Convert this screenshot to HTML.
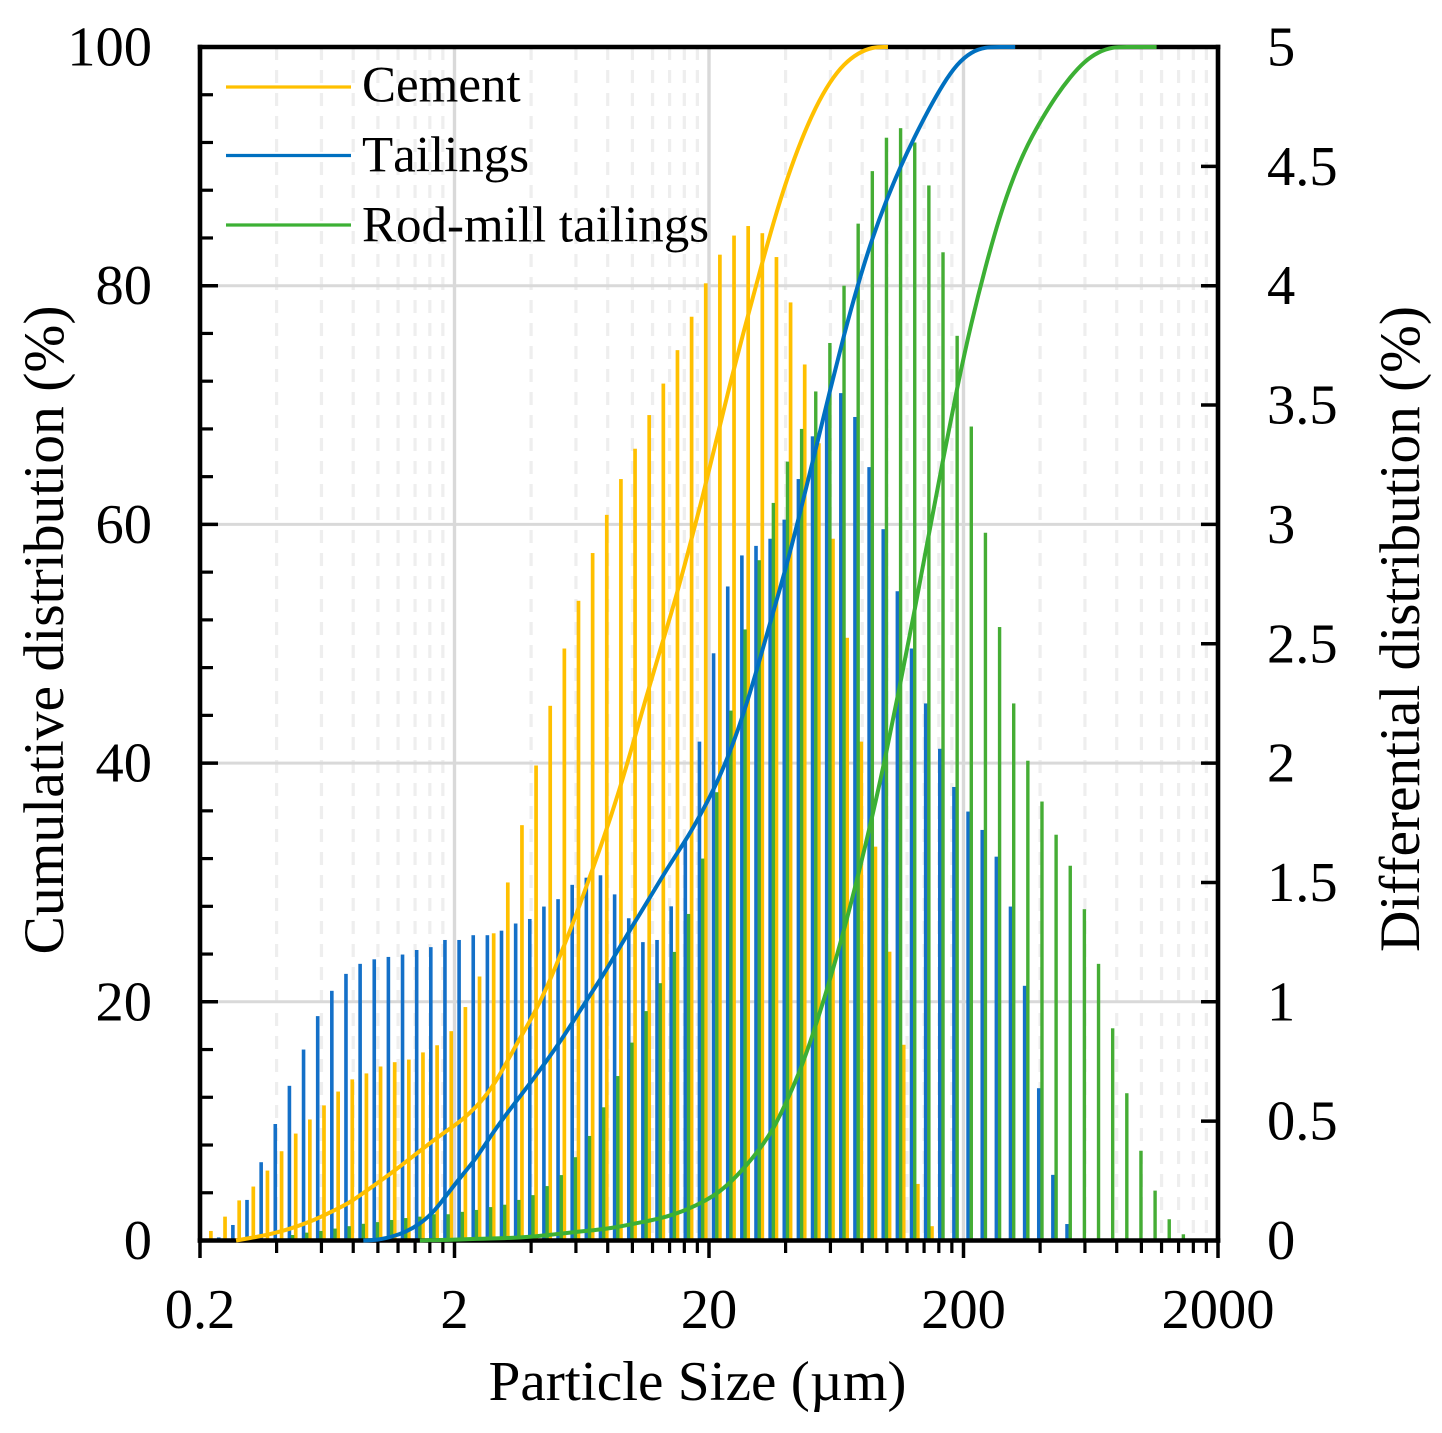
<!DOCTYPE html>
<html lang="en">
<head>
<meta charset="utf-8">
<title>Particle size distribution</title>
<style>
html,body{margin:0;padding:0;background:#fff;}
svg{display:block;}
text{font-family:"Liberation Serif",serif;fill:#000;font-kerning:none;}
</style>
</head>
<body>
<svg id="chart" xmlns="http://www.w3.org/2000/svg" width="1442" height="1433" viewBox="0 0 1442 1433">
  <rect x="0" y="0" width="1442" height="1433" fill="#fff"/>
  <g id="grid"></g>
  <g id="bars"></g>
  <g id="axes"></g>
  <g id="curves"></g>
  <g id="tick-labels" font-size="56.5"></g>
  <text x="697.5" y="1400" font-size="56" text-anchor="middle" textLength="418" lengthAdjust="spacingAndGlyphs">Particle Size (µm)</text>
  <text transform="translate(63 630) rotate(-90)" font-size="57" text-anchor="middle" textLength="649" lengthAdjust="spacingAndGlyphs">Cumulative distribution (%)</text>
  <text transform="translate(1419 629) rotate(-90)" font-size="57" text-anchor="middle" textLength="646" lengthAdjust="spacingAndGlyphs">Differential distribution (%)</text>
  <g>
    <g>
      <line x1="226" x2="351" y1="87" y2="87" stroke="#ffc000" stroke-width="3.2"/>
      <text x="362" y="101.5" font-size="51">Cement</text>
    </g>
    <g>
      <line x1="226" x2="351" y1="155.5" y2="155.5" stroke="#0070c0" stroke-width="3.2"/>
      <text x="362" y="171.5" font-size="51">Tailings</text>
    </g>
    <g>
      <line x1="226" x2="351" y1="225" y2="225" stroke="#3cb034" stroke-width="3.2"/>
      <text x="362" y="241.5" font-size="51">Rod-mill tailings</text>
    </g>
  </g>
</svg>
<script>
// ---- Data ----
const sizes = [
  0.2146,0.2439,0.2772,0.3150,0.3580,0.4068,0.4623,0.5254,0.5971,0.6786,0.7712,0.8765,0.9961,1.132,1.2865,1.4620,1.6616,1.8883,
  2.146,2.439,2.772,3.150,3.580,4.068,4.623,5.254,5.971,6.786,7.712,8.765,9.961,11.32,12.865,14.62,16.616,18.883,
  21.46,24.39,27.72,31.50,35.80,40.68,46.23,52.54,59.71,67.86,77.12,87.65,99.61,113.2,128.65,146.2,166.16,188.83,
  214.6,243.9,277.2,315.0,358.0,406.8,462.3,525.4,597.1,678.6,771.2,876.5,996.1,1132,1286.5,1462
];
const cementBars = [
  0.04,0.10,0.168,0.226,0.293,0.374,0.448,0.507,0.566,0.624,0.675,0.70,0.729,0.747,0.758,0.788,0.818,0.877,
  0.978,1.106,1.287,1.50,1.74,1.99,2.24,2.48,2.68,2.88,3.04,3.19,3.317,3.458,3.59,3.73,3.87,4.01,
  4.13,4.21,4.25,4.22,4.12,3.93,3.67,3.34,2.94,2.525,2.09,1.65,1.21,0.82,0.237,0.06
];
const tailingsBars = [
  0,0.013,0.065,0.17,0.328,0.488,0.648,0.80,0.94,1.046,1.117,1.159,1.178,1.188,1.198,1.217,1.229,1.259,
  1.259,1.279,1.279,1.298,1.328,1.347,1.399,1.43,1.49,1.52,1.53,1.45,1.35,1.25,1.259,1.40,1.68,2.09,
  2.46,2.74,2.87,2.91,2.94,3.02,3.19,3.369,3.50,3.55,3.45,3.24,2.98,2.72,2.48,2.25,2.06,1.90,
  1.797,1.72,1.608,1.399,1.067,0.638,0.275,0.069
];
const rodMillBars = [
  0,0,0,0,0,0,0.023,0.033,0.04,0.05,0.06,0.07,0.077,0.086,0.094,0.10,0.11,0.11,
  0.12,0.128,0.14,0.15,0.17,0.19,0.228,0.274,0.349,0.438,0.558,0.689,0.829,0.961,1.078,1.209,1.368,1.60,
  1.878,2.22,2.56,2.85,3.09,3.263,3.40,3.557,3.76,4.0,4.26,4.48,4.62,4.66,4.60,4.42,4.14,3.79,
  3.41,2.965,2.57,2.25,2.01,1.839,1.70,1.57,1.388,1.159,0.889,0.617,0.376,0.209,0.089,0.026
];
const cementCurve = [
  null,null,0,0.21,0.42,0.71,1.05,1.47,1.97,2.56,3.14,3.98,4.82,5.66,6.58,7.50,8.42,9.27,
  10.1,11.2,12.6,14.6,16.8,18.8,21.2,24.1,27.1,30.4,33.7,37.3,41.3,45.5,49.5,53.4,57.8,62.3,
  67.2,72.1,76.6,81.0,85.3,89.1,92.3,95.0,97.1,98.6,99.5,100,100
];
const tailingsCurve = [
  null,null,null,null,null,null,null,null,null,null,null,0,0.04,0.3,0.71,1.38,2.39,3.98,
  5.49,6.9,8.76,10.4,11.95,13.5,15.1,16.8,18.65,20.5,22.3,24.3,26.3,28.2,30.2,32.1,33.9,36.0,
  38.3,41.1,44.5,48.5,52.7,56.8,61.5,66.3,71.2,75.9,80.2,84.0,87.2,90.0,92.5,94.8,96.9,98.6,
  99.6,100,100,100
];
const rodMillCurve = [
  null,null,null,null,null,null,null,null,null,null,null,null,null,null,null,0,0.04,0.05,
  0.1,0.13,0.17,0.2,0.25,0.33,0.45,0.58,0.71,0.83,0.96,1.13,1.38,1.6,1.85,2.2,2.64,3.22,
  3.9,4.9,6.16,7.6,9.3,11.8,14.5,18.0,21.8,26.0,30.6,35.5,40.9,46.8,52.8,59.2,65.4,71.5,
  76.9,81.6,85.8,89.2,91.9,94.0,95.9,97.5,98.8,99.6,100,100,100,100
];
const xTickLabels = ["0.2","2","20","200","2000"];
const xMajorTicks = [0.2,2,20,200,2000];
const xMinorTicks = [0.4,0.6,0.8,1,1.2,1.4,1.6,1.8,4,6,8,10,12,14,16,18,40,60,80,100,120,140,160,180,400,600,800,1000,1200,1400,1600,1800];
const leftTickLabels = ["0","20","40","60","80","100"];
const leftMajorTicks = [0,20,40,60,80,100];
const leftMinorTicks = [4,8,12,16,24,28,32,36,44,48,52,56,64,68,72,76,84,88,92,96];
const rightTicks = [0,0.5,1,1.5,2,2.5,3,3.5,4,4.5,5];
const rightTickLabels = ["0","0.5","1","1.5","2","2.5","3","3.5","4","4.5","5"];

// ---- Scales ----
const plotLeft = 200, plotRight = 1218, plotTop = 47, plotBottom = 1240.5;
function xScale(s){ return plotLeft + (plotRight-plotLeft)*Math.log10(s/0.2)/4; }
function yLeft(v){ return plotBottom - (plotBottom-plotTop)*v/100; }
function yRight(v){ return plotBottom - (plotBottom-plotTop)*v/5; }

const NS = "http://www.w3.org/2000/svg";
function make(tag, parent, attrs){
  const n = document.createElementNS(NS, tag);
  for(const k in attrs){ n.setAttribute(k, attrs[k]); }
  parent.appendChild(n);
  return n;
}
const gridG = document.getElementById("grid");
const barsG = document.getElementById("bars");
const axesG = document.getElementById("axes");
const curvesG = document.getElementById("curves");
const labelsG = document.getElementById("tick-labels");

// ---- Gridlines ----
xMinorTicks.forEach(function(t){
  const el = make("line", gridG, {x1:xScale(t),x2:xScale(t),y1:plotTop,y2:plotBottom,stroke:"#eeeeee","stroke-width":3.2,"stroke-dasharray":"13 10"});
  
  
});
xMajorTicks.slice(1,4).forEach(function(t){
  const el = make("line", gridG, {x1:xScale(t),x2:xScale(t),y1:plotTop,y2:plotBottom,stroke:"#d9d9d9","stroke-width":3.4});
  
  
});
leftMajorTicks.slice(1,5).forEach(function(t){
  const el = make("line", gridG, {x1:plotLeft,x2:plotRight,y1:yLeft(t),y2:yLeft(t),stroke:"#d9d9d9","stroke-width":3});
  
  
});

// ---- Bars ----
function drawBars(values, offset, color, width, name){
  values.forEach(function(v,i){
    if(!v){ return; }
    const cx = xScale(sizes[i]) + offset;
    const el = make("rect", barsG, {x:cx-width/2,y:yRight(v),width:width,height:plotBottom-yRight(v),fill:color});
    
    
  });
}
drawBars(cementBars, 3.1, "#ffc000", 3.7, "bar-cement");
drawBars(tailingsBars, -3.2, "#1470c8", 3.6, "bar-tailings");
drawBars(rodMillBars, 0, "#45ad35", 3.4, "bar-rod-mill-tailings");

// ---- Axes ----
[[plotLeft,plotTop,plotRight,plotTop,"top-spine"],[plotLeft,plotBottom,plotRight,plotBottom,"bottom-spine"],[plotLeft,plotTop,plotLeft,plotBottom,"left-spine"],[plotRight,plotTop,plotRight,plotBottom,"right-spine"]].forEach(function(s){
  const el = make("line", axesG, {x1:s[0],y1:s[1],x2:s[2],y2:s[3],stroke:"#000","stroke-width":4.6,"stroke-linecap":"square"});
  
  
});
xMajorTicks.forEach(function(t){
  const el = make("line", axesG, {x1:xScale(t),x2:xScale(t),y1:plotBottom,y2:1258,stroke:"#000","stroke-width":3.5});
  
  
});
xMinorTicks.forEach(function(t){
  const el = make("line", axesG, {x1:xScale(t),x2:xScale(t),y1:plotBottom,y2:1253,stroke:"#000","stroke-width":3.2});
  
  
});
leftMajorTicks.forEach(function(t){
  const el = make("line", axesG, {x1:plotLeft,x2:218,y1:yLeft(t),y2:yLeft(t),stroke:"#000","stroke-width":3.5});
  
  
});
leftMinorTicks.forEach(function(t){
  const el = make("line", axesG, {x1:plotLeft,x2:213,y1:yLeft(t),y2:yLeft(t),stroke:"#000","stroke-width":3.2});
  
  
});
rightTicks.forEach(function(t){
  const el = make("line", axesG, {x1:1201,x2:plotRight,y1:yRight(t),y2:yRight(t),stroke:"#000","stroke-width":3.5});
  
  
});

// ---- Cumulative curves (uniform cubic B-spline through the read points, clamped at the ends) ----
function curvePath(values){
  const pts = [];
  values.forEach(function(v,i){
    if(v !== null){ pts.push([xScale(sizes[i]), yLeft(v)]); }
  });
  const n = pts.length;
  const at = function(i){ return pts[Math.max(0,Math.min(n-1,i))]; };
  let d = "M" + pts[0][0].toFixed(2) + " " + pts[0][1].toFixed(2);
  for(let i=0;i<n-1;i++){
    const p1 = at(i), p2 = at(i+1), p3 = at(i+2);
    const c1x = p1[0]+(p2[0]-p1[0])/3, c1y = p1[1]+(p2[1]-p1[1])/3;
    const c2x = p1[0]+2*(p2[0]-p1[0])/3, c2y = p1[1]+2*(p2[1]-p1[1])/3;
    const ex = (p1[0]+4*p2[0]+p3[0])/6, ey = (p1[1]+4*p2[1]+p3[1])/6;
    d += "C"+c1x.toFixed(2)+" "+c1y.toFixed(2)+" "+c2x.toFixed(2)+" "+c2y.toFixed(2)+" "+ex.toFixed(2)+" "+ey.toFixed(2);
  }
  d += "L"+(pts[n-1][0]+1.5).toFixed(2)+" "+pts[n-1][1].toFixed(2);
  return d;
}
const cementLine = make("path", curvesG, {d:curvePath(cementCurve),fill:"none",stroke:"#ffc000","stroke-width":4,"stroke-linejoin":"round"});


const tailingsLine = make("path", curvesG, {d:curvePath(tailingsCurve),fill:"none",stroke:"#0070c0","stroke-width":4,"stroke-linejoin":"round"});


const rodMillLine = make("path", curvesG, {d:curvePath(rodMillCurve),fill:"none",stroke:"#3cb034","stroke-width":4,"stroke-linejoin":"round"});



// ---- Tick labels ----
xMajorTicks.forEach(function(t,i){
  const el = make("text", labelsG, {x:xScale(t),y:1328,"text-anchor":"middle"});
  el.textContent = xTickLabels[i];
  
  
});
leftMajorTicks.forEach(function(t,i){
  const el = make("text", labelsG, {x:152,y:yLeft(t)+18.5,"text-anchor":"end"});
  el.textContent = leftTickLabels[i];
  
  
});
rightTicks.forEach(function(t,i){
  const el = make("text", labelsG, {x:1267,y:yRight(t)+18.5,"text-anchor":"start"});
  el.textContent = rightTickLabels[i];
  
  
});
</script>
</body>
</html>
